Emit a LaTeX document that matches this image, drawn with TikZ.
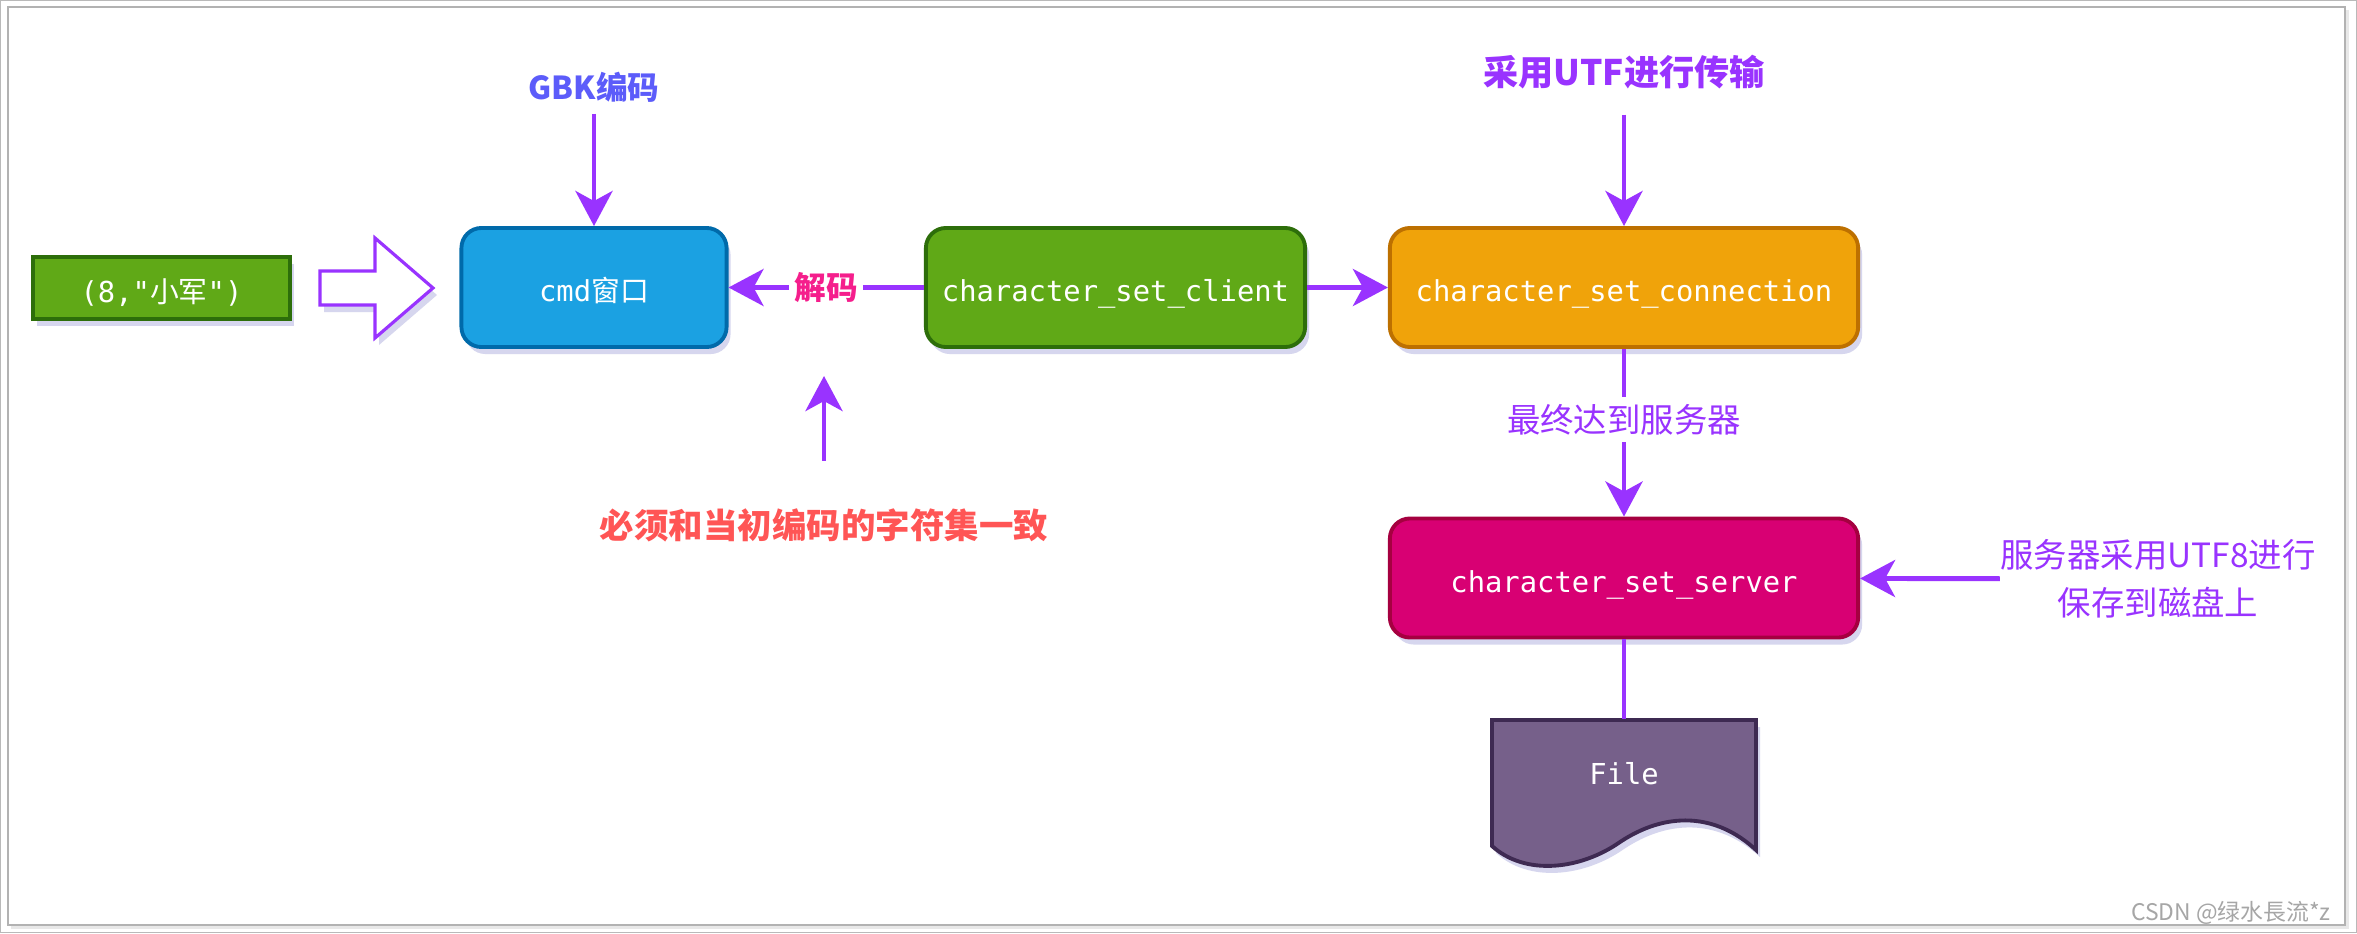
\documentclass[tikz,border=0pt]{standalone}
\usepackage{fontspec}
\setmonofont{DejaVu Sans Mono}
\newfontfamily\cjk{Noto Sans CJK SC}
\usepackage{xcolor}
\usetikzlibrary{shapes, positioning, arrows.meta, shadows}

\definecolor{arrowpurple}{RGB}{153,51,255}
\definecolor{gbkblue}{RGB}{92,92,250}
\definecolor{decodepink}{RGB}{245,30,140}
\definecolor{consistred}{RGB}{255,85,85}
\definecolor{shadowblue}{RGB}{120,120,200}
\definecolor{greenfill}{RGB}{96,169,23}
\definecolor{greenedge}{RGB}{45,110,10}
\definecolor{cmdfill}{RGB}{27,161,226}
\definecolor{cmdedge}{RGB}{0,106,170}
\definecolor{connfill}{RGB}{240,163,10}
\definecolor{connedge}{RGB}{189,112,0}
\definecolor{serverfill}{RGB}{216,0,115}
\definecolor{serveredge}{RGB}{165,0,64}
\definecolor{filefill}{RGB}{118,96,138}
\definecolor{fileedge}{RGB}{62,42,82}

\newcommand{\boxfont}{\ttfamily\fontsize{8.2}{10}\selectfont}

\begin{document}
\begin{tikzpicture}[x=0.01cm, y=-0.01cm, > = {Stealth[length=3.5mm, width=3.7mm, inset=1mm]},
		box/.style = {draw, rounded corners=0.2cm, line width=1.1pt, minimum height=1.19cm, text=white, font=\boxfont,
			text height=0.82em, text depth=0pt,
			drop shadow={shadow xshift=0.4mm, shadow yshift=-0.7mm, opacity=0.3, fill=shadowblue}},
		flow/.style = {->, draw=arrowpurple, line width=1.4pt},
		tag/.style = {inner sep=0pt, text=arrowpurple, font=\cjk\fontsize{9.5}{13.7}\selectfont}]
			\useasboundingbox (0,0) rectangle (2357,933);
			\draw [gray!55, line width=0.4pt] (0.5,0.5) rectangle (2356.5,932.5);
			\fill [gray!18] (11,10) rectangle (2349,929);
			\draw [gray!60, fill=white, line width=0.4pt] (8,7) rectangle (2345,925);
			
			\node [box, rounded corners=0pt, fill=greenfill, draw=greenedge, minimum width=2.57cm, minimum height=0.62cm] (input) at (161.5,288) {(8,"{\cjk 小军}")};
			\draw [draw=arrowpurple, line width=0.9pt, fill=white, drop shadow={shadow xshift=0.4mm, shadow yshift=-0.7mm, opacity=0.3, fill=shadowblue}]
				(320,271) -- (375,271) -- (375,238) -- (433,288) -- (375,338) -- (375,305) -- (320,305) -- cycle;
			
			\node [box, fill=cmdfill, draw=cmdedge, minimum width=2.65cm] (cmd) at (594,287.5) {cmd{\cjk 窗口}};
			\node [box, fill=greenfill, draw=greenedge, minimum width=3.79cm] (client) at (1115.5,287.5) {character\_set\_client};
			\node [box, fill=connfill, draw=connedge, minimum width=4.68cm] (conn) at (1624,287.5) {character\_set\_connection};
			\node [box, fill=serverfill, draw=serveredge, minimum width=4.68cm] (server) at (1624,578) {character\_set\_server};
			
			\draw [draw=fileedge, line width=1.1pt, fill=filefill, drop shadow={shadow xshift=0.4mm, shadow yshift=-0.7mm, opacity=0.3, fill=shadowblue}]
				(1492,720) -- (1756,720) -- (1756,850) .. controls (1715,812) and (1665,812) .. (1620,842)
				.. controls (1580,870) and (1525,876) .. (1492,846) -- cycle;
			\node [text=white, font=\boxfont, minimum width=2.64cm, minimum height=1.08cm] (file) at (1624,774) {File};
			
			\node [inner sep=0pt, text=gbkblue, font=\cjk\bfseries\fontsize{9}{11}\selectfont] (gbk) at (594,87) {GBK编码};
			\node [inner sep=0pt, text=arrowpurple, font=\cjk\bfseries\fontsize{10}{12}\selectfont] (utf) at (1624,72) {采用UTF进行传输};
			\node [inner sep=0pt, text=consistred, font=\cjk\bfseries\fontsize{9.8}{12}\selectfont] (consist) at (824,525) {必须和当初编码的字符集一致};
			\node [tag, align=center] (save) at (2158,579) {服务器采用UTF8进行\\保存到磁盘上};
			\coordinate (uptip) at (824,376);
			
			\draw [flow, shorten <=0.11cm] (gbk) -- (cmd);
			\draw [flow, shorten <=0.25cm] (utf) -- (conn);
			\draw [flow, shorten <=0.47cm] (consist) -- (uptip);
			\draw [flow] (client) -- (cmd) node [midway, fill=white, inner sep=1.5pt, text=decodepink, font=\cjk\bfseries\fontsize{9}{11}\selectfont] (decode) {解码};
			\draw [flow] (client) -- (conn);
			\draw [flow] (conn) -- (server) node [pos=0.42, tag, fill=white, inner sep=2pt] (reach) {最终达到服务器};
			\draw [flow] (save) -- (server);
			\draw [draw=arrowpurple, line width=1.4pt] (server) -- (file);
			
			\node [anchor=east, text=gray!70, font=\cjk\fontsize{6.5}{8}\selectfont] (mark) at (2343,913) {CSDN @绿水長流*z};
		\end{tikzpicture}
\end{document}
